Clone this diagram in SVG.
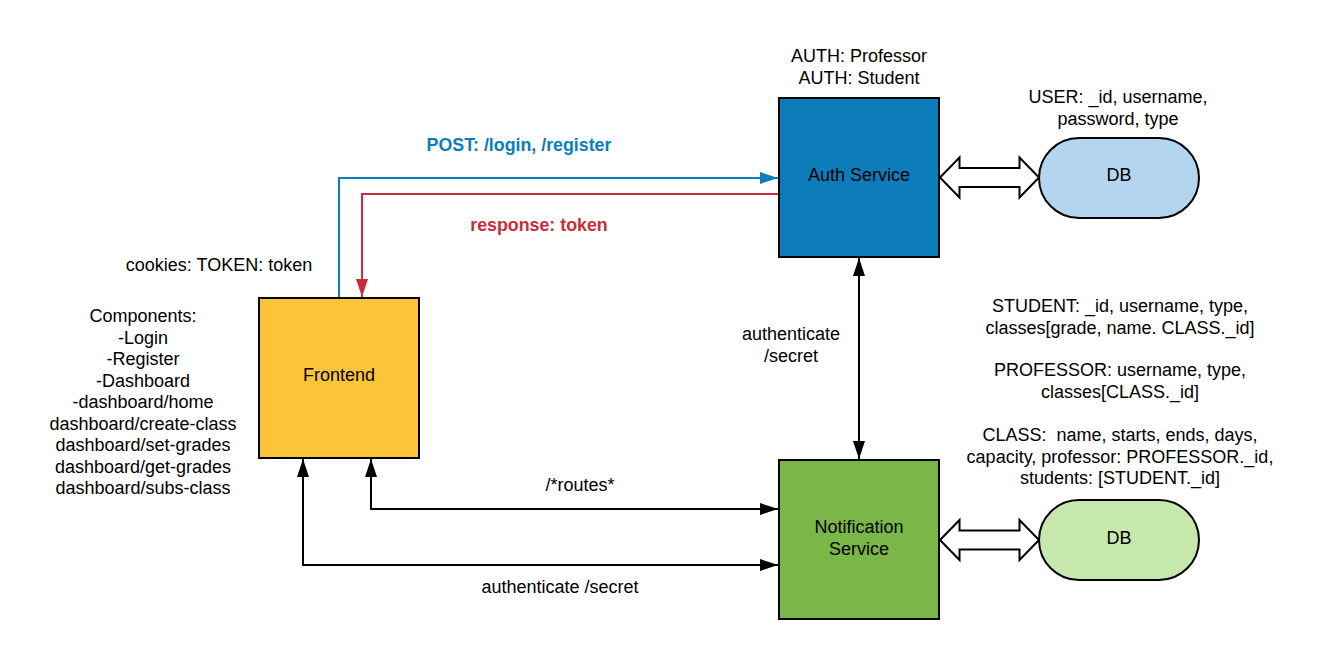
<svg xmlns="http://www.w3.org/2000/svg" width="1319" height="660" viewBox="0 0 1319 660">
<style>
text{font-family:"Liberation Sans",Arial,sans-serif;font-size:18px;fill:#000;text-anchor:middle}
.box{stroke:#000;stroke-width:2}
.blk{fill:none;stroke:#000;stroke-width:2}
.bold{font-weight:bold;font-size:17.8px}
</style>
<defs>
<marker id="ab" markerWidth="18" markerHeight="12" viewBox="0 0 18 12" refX="18" refY="6" orient="auto" markerUnits="userSpaceOnUse"><path d="M0,0L18,6L0,12z" fill="#000"/></marker>
<marker id="abs" markerWidth="18" markerHeight="12" viewBox="0 0 18 12" refX="0" refY="6" orient="auto" markerUnits="userSpaceOnUse"><path d="M18,0L0,6L18,12z" fill="#000"/></marker>
<marker id="abl" markerWidth="18" markerHeight="12" viewBox="0 0 18 12" refX="18" refY="6" orient="auto" markerUnits="userSpaceOnUse"><path d="M0,0L18,6L0,12z" fill="#0c7cba"/></marker>
<marker id="ard" markerWidth="18" markerHeight="12" viewBox="0 0 18 12" refX="18" refY="6" orient="auto" markerUnits="userSpaceOnUse"><path d="M0,0L18,6L0,12z" fill="#c92d39"/></marker>
</defs>
<rect width="1319" height="660" fill="#fff"/>
<g id="connectors">
<path d="M339,297V178H778" fill="none" stroke="#0c7cba" stroke-width="2" marker-end="url(#abl)"/>
<path d="M779,194H362V297" fill="none" stroke="#c92d39" stroke-width="2" marker-end="url(#ard)"/>
<path class="blk" d="M859,258V459" marker-start="url(#abs)" marker-end="url(#ab)"/>
<path class="blk" d="M371,459V509H778" marker-start="url(#abs)" marker-end="url(#ab)"/>
<path class="blk" d="M303,459V565H778" marker-start="url(#abs)" marker-end="url(#ab)"/>
<path d="M940,177.5L959.5,157.5V168H1019.5V157.5L1039,177.5L1019.5,197.5V187H959.5V197.5Z" fill="#fff" stroke="#000" stroke-width="2" stroke-linejoin="miter"/>
<path d="M940,540L959.5,520V530.5H1019.5V520L1039,540L1019.5,560V549.5H959.5V560Z" fill="#fff" stroke="#000" stroke-width="2"/>
<text class="bold" x="519" y="151" style="fill:#0c7cba">POST: /login, /register</text>
<text class="bold" x="539" y="231" style="fill:#c92d39">response: token</text>
<text x="580" y="491">/*routes*</text>
<text x="560" y="593">authenticate /secret</text>
<text x="791" y="340">authenticate</text>
<text x="791" y="361.5">/secret</text>
</g>
<g id="auth">
<rect class="box" x="779" y="98" width="160" height="159" fill="#0c7cba"/>
<text x="859" y="181">Auth Service</text>
<text x="859" y="62">AUTH: Professor</text>
<text x="859" y="83.5">AUTH: Student</text>
</g>
<g id="frontend">
<rect class="box" x="259" y="298" width="160" height="160" fill="#fcc438"/>
<text x="339" y="381">Frontend</text>
<text x="219" y="271">cookies: TOKEN: token</text>
<text x="143" y="322">Components:</text>
<text x="143" y="343.5">-Login</text>
<text x="143" y="365">-Register</text>
<text x="143" y="386.5">-Dashboard</text>
<text x="143" y="408">-dashboard/home</text>
<text x="143" y="429.5">dashboard/create-class</text>
<text x="143" y="451">dashboard/set-grades</text>
<text x="143" y="472.5">dashboard/get-grades</text>
<text x="143" y="494">dashboard/subs-class</text>
</g>
<g id="notification">
<rect class="box" x="779" y="460" width="160" height="159" fill="#7ab648"/>
<text x="859" y="533">Notification</text>
<text x="859" y="554.5">Service</text>
</g>
<g id="db1">
<rect class="box" x="1039" y="138" width="160" height="80" rx="40" ry="40" fill="#b3d5f0"/>
<text x="1119" y="181">DB</text>
<text x="1118" y="103">USER: _id, username,</text>
<text x="1118" y="124.5">password, type</text>
</g>
<g id="db2">
<rect class="box" x="1039" y="500" width="160" height="80" rx="40" ry="40" fill="#c7e8ac"/>
<text x="1119" y="544">DB</text>
</g>
<g id="schemas">
<text x="1120" y="312">STUDENT: _id, username, type,</text>
<text x="1120" y="333.5">classes[grade, name. CLASS._id]</text>
<text x="1120" y="376">PROFESSOR: username, type,</text>
<text x="1120" y="397.5">classes[CLASS._id]</text>
<text x="1120" y="441" xml:space="preserve">CLASS:  name, starts, ends, days,</text>
<text x="1120" y="462.5">capacity, professor: PROFESSOR._id,</text>
<text x="1120" y="484">students: [STUDENT._id]</text>
</g>
</svg>
